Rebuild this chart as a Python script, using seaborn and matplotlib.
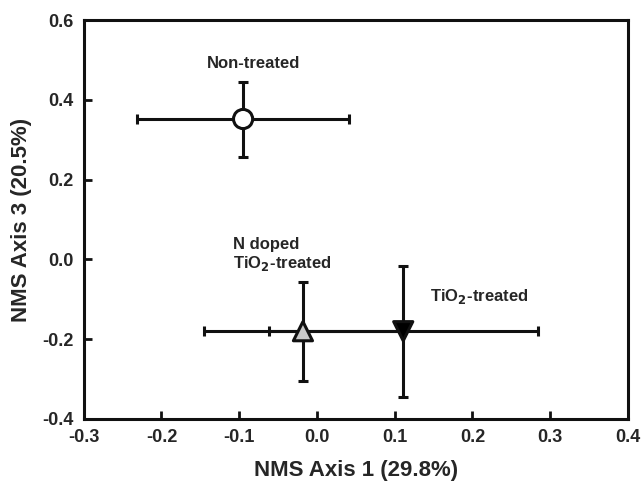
import pandas as pd
import matplotlib
matplotlib.use("Agg")
import matplotlib.pyplot as plt
import seaborn as sns

# NMS ordination centroids with error bars
groups = ["Non-treated", "N doped TiO2-treated", "TiO2-treated"]
axis1 = [-0.095, -0.018, 0.111]
axis3 = [0.352, -0.180, -0.180]
axis1_err = [0.136, 0.127, 0.173]
axis3_err = [0.094, 0.124, 0.164]
markers = {"Non-treated": "o", "N doped TiO2-treated": "^", "TiO2-treated": "v"}
face_colors = {"Non-treated": "white", "N doped TiO2-treated": "#c8c8c8", "TiO2-treated": "black"}

df = pd.DataFrame({"group": groups, "axis1": axis1, "axis3": axis3,
                   "err1": axis1_err, "err3": axis3_err})

sns.set_style("ticks")
plt.rcParams['font.family'] = ['Liberation Sans', 'DejaVu Sans']
plt.rcParams['font.weight'] = 'bold'

fig = plt.figure(figsize=(6.44, 4.90), dpi=100)
ax = fig.add_axes([0.130, 0.145, 0.845, 0.814])

for _, r in df.iterrows():
    ax.errorbar(r["axis1"], r["axis3"], xerr=r["err1"], yerr=r["err3"],
                fmt="none", ecolor="#111111", elinewidth=2.2, capsize=3.8,
                capthick=2.2, zorder=2)

sns.scatterplot(data=df, x="axis1", y="axis3", hue="group", style="group",
                markers=markers, palette=face_colors, s=190, edgecolor="#111111",
                linewidth=2.2, legend=False, zorder=3, ax=ax)

ax.set_xlim(-0.3, 0.4)
ax.set_ylim(-0.4, 0.6)
ax.set_xticks([-0.3, -0.2, -0.1, 0.0, 0.1, 0.2, 0.3, 0.4])
ax.set_yticks([-0.4, -0.2, 0.0, 0.2, 0.4, 0.6])
ax.xaxis.set_major_formatter(matplotlib.ticker.FormatStrFormatter('%.1f'))
ax.yaxis.set_major_formatter(matplotlib.ticker.FormatStrFormatter('%.1f'))
ax.tick_params(direction="in", length=6, width=2, labelsize=13, pad=7, color="#111111")
for s in ax.spines.values():
    s.set_linewidth(2.2)
    s.set_color("#111111")

ax.set_xlabel("NMS Axis 1 (29.8%)", fontsize=16, fontweight="bold", labelpad=10)
ax.set_ylabel("NMS Axis 3 (20.5%)", fontsize=16, fontweight="bold", labelpad=8)

ax.text(-0.081, 0.49, "Non-treated", ha="center", va="center", fontsize=12, fontweight="bold")
ax.text(-0.108, 0.01, "N doped\nTiO$_\\mathbf{2}$-treated", ha="left", va="center",
        fontsize=12, fontweight="bold", linespacing=1.15)
ax.text(0.145, -0.093, "TiO$_\\mathbf{2}$-treated", ha="left", va="center",
        fontsize=12, fontweight="bold")

fig.savefig("out.png", dpi=100)
